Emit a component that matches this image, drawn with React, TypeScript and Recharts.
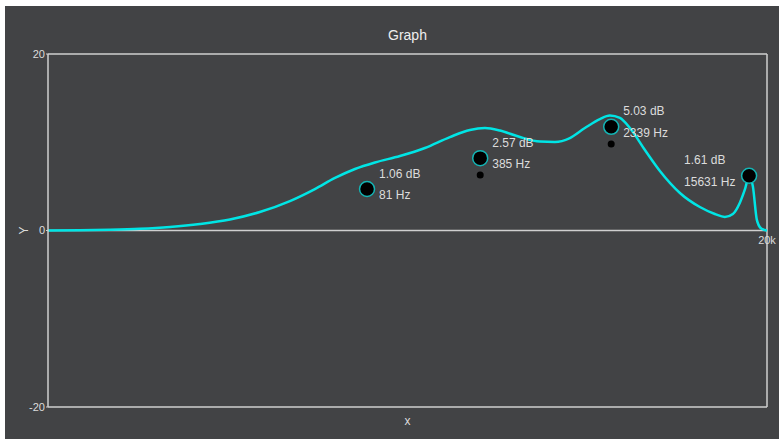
import React from 'react';
import { ComposedChart, Line, Scatter, XAxis, YAxis, ReferenceLine } from 'recharts';

// Response curve (frequency in Hz, level in Y units)
const curveFreqs = [1, 1.55, 2.35, 3.55, 5.37, 8.11, 12.26, 18.5, 28, 39.5, 52.1, 68.6, 90.3, 127.4, 179.8, 253.7, 334.2, 410.9, 505.1, 665.3, 876.1, 1077, 1324, 1628, 2002, 2297, 2637, 3027, 3721, 4575, 6026, 7935, 9754, 11194, 12500, 13765, 14750, 15631, 16464, 17395, 18385, 19424, 20000];
const curveLevels = [0, 0.02, 0.08, 0.19, 0.4, 0.74, 1.25, 2.1, 3.34, 4.7, 5.95, 6.97, 7.71, 8.44, 9.35, 10.59, 11.39, 11.61, 11.33, 10.59, 10.08, 10.03, 10.48, 11.61, 12.63, 13.03, 12.75, 11.61, 9.12, 6.74, 4.25, 2.66, 1.87, 1.53, 1.87, 3.15, 4.65, 6.18, 5.0, 1.2, 0.25, 0.05, 0];

// Band handles
const bandFreqs = [81, 385, 2339, 15631];
const bandLevels = [4.7, 8.2, 11.75, 6.2];
const bandGainLabels = ['1.06 dB', '2.57 dB', '5.03 dB', '1.61 dB'];

// Small markers
const markerFreqs = [385, 2339];
const markerLevels = [6.3, 9.8];

const yTicks = [-20, 0, 20];
const xEndTick = 20000;
const xEndTickLabel = '20k';
const title = 'Graph';
const xLabel = 'x';
const yLabel = 'Y';

const curveData = curveFreqs.map((f, i) => ({ f, v: curveLevels[i] }));
const bandData = bandFreqs.map((f, i) => ({ f, v: bandLevels[i], gain: bandGainLabels[i], hz: `${f} Hz` }));
const markerData = markerFreqs.map((f, i) => ({ f, v: markerLevels[i] }));

const FRAME = '#cfcfcf';
const TEXT = '#dcdcdc';

const BandShape = (props: any) => {
  const { cx, cy, payload } = props;
  const leftSide = payload.f > 10000;
  const tx = leftSide ? cx - 65 : cx + 12;
  return (
    <g>
      <circle cx={cx} cy={cy} r={7.5} fill="#000" stroke="#14b4b4" strokeWidth={1.5} />
      <text x={tx} y={cy - 11.5} fill={TEXT} fontSize={12}>{payload.gain}</text>
      <text x={tx} y={cy + 10} fill={TEXT} fontSize={12}>{payload.hz}</text>
    </g>
  );
};

const MarkerShape = (props: any) => {
  const { cx, cy } = props;
  return <circle cx={cx} cy={cy} r={3.5} fill="#000" />;
};

const ZeroLabel = (props: any) => {
  const vb = props.viewBox || {};
  return (
    <text x={(vb.x || 0) + (vb.width || 0)} y={(vb.y || 0) + 13.5} textAnchor="middle" fill={TEXT} fontSize={11}>
      {xEndTickLabel}
    </text>
  );
};

export default function App() {
  return (
    <div
      style={{
        position: 'absolute',
        left: 5,
        top: 6,
        width: 774,
        height: 433,
        background: '#424345',
        fontFamily: '"Liberation Sans", Arial, sans-serif',
      }}
    >
      <div
        style={{
          position: 'absolute',
          left: 43,
          top: 21,
          width: 719,
          textAlign: 'center',
          fontSize: 14,
          lineHeight: '16px',
          color: '#eeeeee',
        }}
      >
        {title}
      </div>
      <ComposedChart width={774} height={433} margin={{ top: 48, right: 12, left: 13, bottom: 0 }}>
        <XAxis
          type="number"
          dataKey="f"
          scale="log"
          domain={[1, 20000]}
          allowDataOverflow
          tick={false}
          tickLine={false}
          height={32}
          axisLine={{ stroke: FRAME, strokeWidth: 1.5 }}
          label={{ value: xLabel, position: 'insideBottom', offset: 14, fill: TEXT, fontSize: 12 }}
        />
        <YAxis
          type="number"
          dataKey="v"
          domain={[-20, 20]}
          ticks={yTicks}
          interval={0}
          width={30}
          tickSize={2}
          tickMargin={1}
          tick={{ fill: TEXT, fontSize: 11 }}
          tickLine={{ stroke: FRAME }}
          axisLine={{ stroke: FRAME, strokeWidth: 1.5 }}
          label={{ value: yLabel, angle: -90, position: 'insideLeft', offset: 6, fill: TEXT, fontSize: 12, style: { textAnchor: 'middle' } }}
        />
        <ReferenceLine y={20} stroke={FRAME} strokeWidth={1.5} />
        <ReferenceLine x={xEndTick} stroke={FRAME} strokeWidth={1.5} />
        <ReferenceLine y={0} stroke={FRAME} strokeWidth={1.5} label={<ZeroLabel />} />
        <Line
          data={curveData}
          dataKey="v"
          type="monotone"
          stroke="#00e5e5"
          strokeWidth={2.5}
          dot={false}
          activeDot={false}
          isAnimationActive={false}
        />
        <Scatter data={markerData} dataKey="v" shape={<MarkerShape />} isAnimationActive={false} />
        <Scatter data={bandData} dataKey="v" shape={<BandShape />} isAnimationActive={false} />
      </ComposedChart>
    </div>
  );
}
